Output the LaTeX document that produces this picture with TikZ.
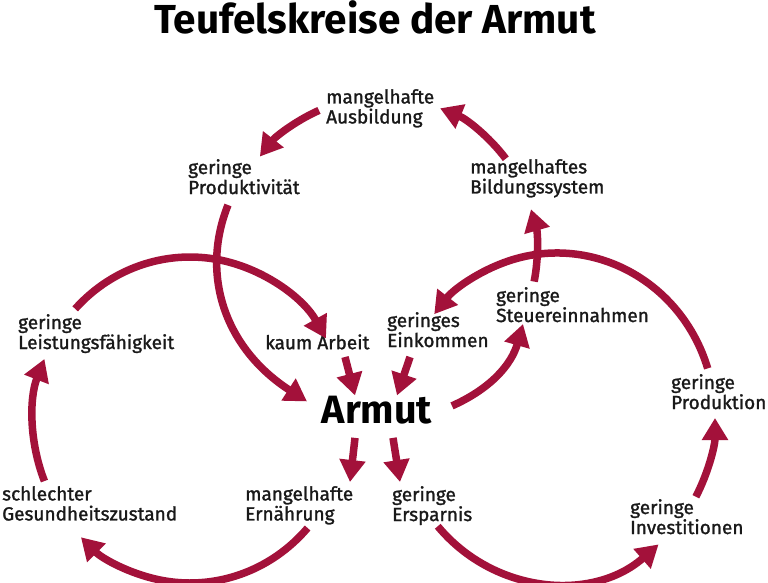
\documentclass[tikz,border=0pt]{standalone}
\usepackage{fontspec}
\setmainfont{Fira Sans}
\newfontfamily\labfont{Fira Sans}[FakeBold=1.3]
\usetikzlibrary{arrows.meta,calc}
\definecolor{wine}{RGB}{163,17,58}
\definecolor{ink}{RGB}{25,25,25}
\begin{document}
\begin{tikzpicture}[x=1pt,y=1pt,
  lab/.style={anchor=north west, inner sep=0pt, align=left, text=ink,
    font=\labfont\fontsize{19}{20}\selectfont,
    execute at begin node={\lineskiplimit=-100pt\relax\rule{0pt}{16pt}}},
  big/.style={anchor=base, inner sep=0pt, text=black, font=\bfseries},
  arr/.style={draw=wine, line width=7.5pt, -{Triangle[length=22pt,width=25pt]}},
]
\fill[white] (0,0) rectangle (768,-582);
\useasboundingbox (0,0) rectangle (768,-582);

% centres of the three cycles
\coordinate (CT) at (382,-252);
\coordinate (CL) at (190,-420);
\coordinate (CR) at (557,-418);

% texts
\node[big, font=\fontsize{40.5}{42}\selectfont\bfseries] (title) at (375,-33) {Teufelskreise der Armut};
\node[big, font=\fontsize{39.5}{42}\selectfont\bfseries] (armut) at (377,-423) {Armut};

\node[lab] (ausb)   at (326,-89)  {mangelhafte\\Ausbildung};
\node[lab] (prod)   at (188,-159) {geringe\\Produktivität};
\node[lab] (bild)   at (470,-159) {mangelhaftes\\Bildungssystem};
\node[lab] (leist)  at (18,-314)  {geringe\\Leistungsfähigkeit};
\node[lab] (arb)    at (265,-333) {kaum Arbeit};
\node[lab] (eink)   at (387,-312) {geringes\\Einkommen};
\node[lab] (steu)   at (496,-287) {geringe\\Steuereinnahmen};
\node[lab] (prodn)  at (671,-374) {geringe\\Produktion};
\node[lab] (gesund) at (2,-486)   {schlechter\\Gesundheitszustand};
\node[lab] (ern)    at (245,-486) {mangelhafte\\Ernährung};
\node[lab] (ersp)   at (392,-486) {geringe\\Ersparnis};
\node[lab] (inv)    at (630,-499) {geringe\\Investitionen};

% top cycle (education)
\draw[arr] ([shift={(114:155pt)}]CT) arc[start angle=114,end angle=142,radius=155pt];
\draw[arr] ([shift={(37:155pt)}]CT) arc[start angle=37,end angle=68,radius=155pt];
\draw[arr] ([shift={(-11:155pt)}]CT) arc[start angle=-11,end angle=16,radius=155pt];
\draw[arr] ([shift={(40,-46)}]prod.north west)
   .. controls +(-28,-70) and +(-82,53) .. ([shift={(-70,-6)}]armut.north);

% left cycle (health)
\draw[arr] ([shift={(137:157pt and 163pt)}]CL) arc[start angle=137,end angle=30,x radius=157pt,y radius=163pt];
\draw[arr] ([shift={(202:157pt and 163pt)}]CL) arc[start angle=202,end angle=158,x radius=157pt,y radius=163pt];
\draw[arr] ([shift={(-41.5:157pt and 163pt)}]CL) arc[start angle=-41.5,end angle=-134,x radius=157pt,y radius=163pt];

% right cycle (economy)
\draw[arr] ([shift={(17.5:158pt and 165pt)}]CR) arc[start angle=17.5,end angle=141,x radius=158pt,y radius=165pt];
\draw[arr] ([shift={(-28.5:158pt and 165pt)}]CR) arc[start angle=-28.5,end angle=0,x radius=158pt,y radius=165pt];
\draw[arr] ([shift={(-139:158pt and 165pt)}]CR) arc[start angle=-139,end angle=-50,x radius=158pt,y radius=165pt];

% short arrows at the centre
\draw[arr] ([shift={(80,-24)}]arb.north west) -- ([shift={(-22,0)}]armut.north);
\draw[arr] ([shift={(23,-45)}]eink.north west) -- ([shift={(20,0)}]armut.north);
\draw[arr] ([shift={(-22,-14)}]armut.south) -- ([shift={(105,4)}]ern.north west);
\draw[arr] ([shift={(16,-14)}]armut.south) -- ([shift={(8,4)}]ersp.north west);
\draw[arr] ([shift={(75,18)}]armut.south) to[bend right=25] ([shift={(27,-37)}]steu.north west);
\end{tikzpicture}
\end{document}
